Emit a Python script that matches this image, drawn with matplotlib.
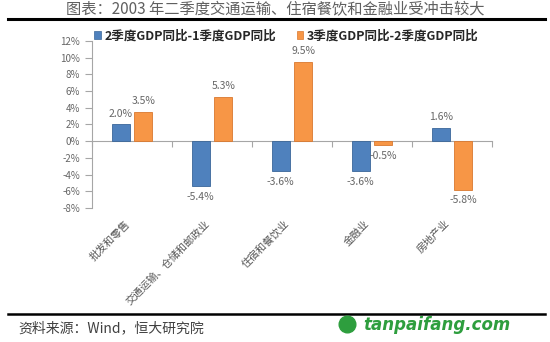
import matplotlib
matplotlib.use("Agg")
import matplotlib.pyplot as plt
import matplotlib.transforms as mtransforms
from matplotlib.patches import Patch
from matplotlib.lines import Line2D

plt.rcParams['font.family'] = ['Noto Sans CJK SC', 'DejaVu Sans']

title = "图表：2003 年二季度交通运输、住宿餐饮和金融业受冲击较大"
categories = ["批发和零售", "交通运输、仓储和邮政业", "住宿和餐饮业", "金融业", "房地产业"]
series_names = ["2季度GDP同比-1季度GDP同比", "3季度GDP同比-2季度GDP同比"]
q2_minus_q1 = [2.0, -5.4, -3.6, -3.6, 1.6]
q3_minus_q2 = [3.5, 5.3, 9.5, -0.5, -5.8]
yticks = [-8, -6, -4, -2, 0, 2, 4, 6, 8, 10, 12]
source = "资料来源：Wind，恒大研究院"

W, H = 550, 342
fig = plt.figure(figsize=(W / 100, H / 100), dpi=100)
fig.patch.set_facecolor("white")

ax = fig.add_axes([92 / W, 1 - 208 / H, 400 / W, 167 / H])
ax.set_xlim(0, len(categories))
ax.set_ylim(-8, 12)

blue = "#4F81BD"
orange = "#F79646"
bw = 0.22
off = 0.14
xs = [i + 0.5 for i in range(len(categories))]
b1 = ax.bar([x - off for x in xs], q2_minus_q1, width=bw, color=blue,
            edgecolor="#3A6699", linewidth=0.6, zorder=3)
b2 = ax.bar([x + off for x in xs], q3_minus_q2, width=bw, color=orange,
            edgecolor="#D9782F", linewidth=0.6, zorder=3)

lab_col = "#666666"
for bars, vals in ((b1, q2_minus_q1), (b2, q3_minus_q2)):
    for rect, v in zip(bars, vals):
        cx = rect.get_x() + rect.get_width() / 2
        if v >= 0:
            ax.annotate(f"{v:.1f}%", (cx, v), xytext=(0, 4), textcoords="offset points",
                        ha="center", va="bottom", fontsize=7.5, color=lab_col)
        else:
            ax.annotate(f"{v:.1f}%", (cx, v), xytext=(0, -4), textcoords="offset points",
                        ha="center", va="top", fontsize=7.5, color=lab_col)

# axes styling
for s in ("top", "right"):
    ax.spines[s].set_visible(False)
ax.spines["left"].set_color("#A6A6A6")
ax.spines["bottom"].set_position(("data", 0))
ax.spines["bottom"].set_color("#A6A6A6")
ax.set_yticks(yticks)
ax.set_yticklabels([f"{t}%" for t in yticks])
ax.tick_params(axis="y", colors="#A6A6A6", labelcolor=lab_col, labelsize=7, length=5, width=0.8)
ax.set_xticks(range(len(categories) + 1))
ax.set_xticklabels([])
ax.tick_params(axis="x", colors="#A6A6A6", length=4, direction="out", width=0.8)

# category labels, rotated
trans = mtransforms.blended_transform_factory(ax.transData, fig.transFigure)
for x, c in zip(xs, categories):
    ax.text(x - 0.05, 1 - 222 / H, c, transform=trans, rotation=45, rotation_mode="anchor",
            ha="right", va="center", fontsize=7.5, color="#555555", style="italic")

# legend
handles = [Patch(facecolor=blue, edgecolor="#3A6699", linewidth=0.5),
           Patch(facecolor=orange, edgecolor="#D9782F", linewidth=0.5)]
leg = fig.legend(handles, series_names, loc="center left", bbox_to_anchor=(83 / W, 1 - 36 / H),
                 ncol=2, frameon=False, handlelength=0.55, handleheight=0.55,
                 handletextpad=0.3, columnspacing=1.6,
                 prop={"size": 9, "weight": "bold"})
for t in leg.get_texts():
    t.set_color("#262626")

# title and rules
fig.text(0.5, 1 - 10 / H, title, ha="center", va="center", fontsize=11, color="#606060")
fig.add_artist(Line2D([8 / W, 545 / W], [1 - 19 / H, 1 - 19 / H], color="black", linewidth=2.2))
fig.add_artist(Line2D([8 / W, 545 / W], [1 - 314 / H, 1 - 314 / H], color="black", linewidth=1.8))
fig.text(18 / W, 1 - 328 / H, source, ha="left", va="center", fontsize=10,
         color="#404040", style="italic")

# watermark
fig.text(363 / W, 1 - 325 / H, "tanpaifang.com", ha="left", va="center", fontsize=12,
         color="#2E9E3E", weight="bold", style="italic", family="DejaVu Sans")
fig.add_artist(Line2D([347 / W], [1 - 324 / H], marker="o", markersize=12,
                      color="#2E9E3E", linestyle="none"))

fig.savefig("out.png", dpi=100)
